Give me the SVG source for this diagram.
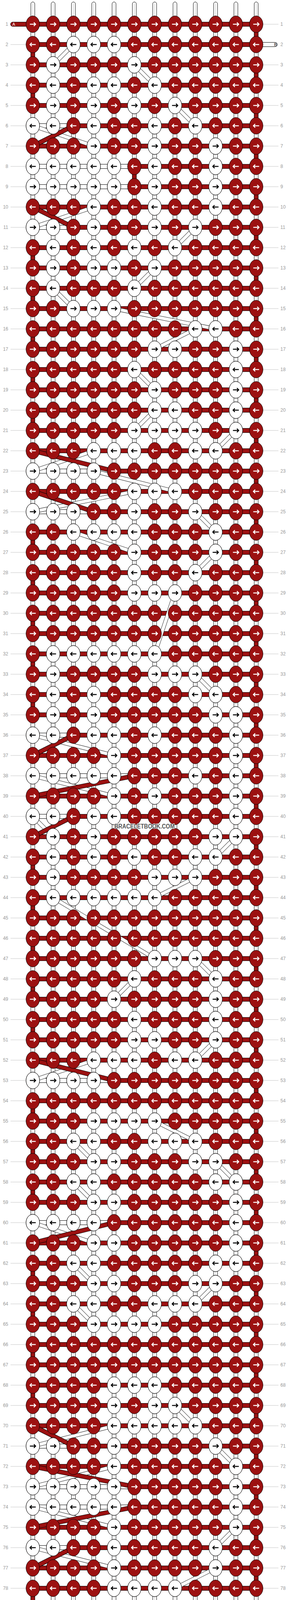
<svg xmlns="http://www.w3.org/2000/svg" width="740" height="4232" viewBox="0 0 740 4232">
<style>
.kr{fill:#9c1111;stroke:#000;stroke-width:1}
.kw{fill:#fff;stroke:#000;stroke-width:1}
.aw{fill:none;stroke:#fff;stroke-width:2.4}
.ab{fill:none;stroke:#000;stroke-width:2.4}
.hs{fill:#9c1111;stroke:#000;stroke-width:1}
.ws{fill:#fff;stroke:#000;stroke-width:1}
.cl{fill:none;stroke:#bbb;stroke-width:1}
.bo{fill:none;stroke:#000;stroke-width:10}
.bi{fill:none;stroke:#fff;stroke-width:8.4}
.ao{fill:none;stroke:#000;stroke-width:11.5}
.ai{fill:none;stroke:#9c1111;stroke-width:9.5}
.rl{fill:none;stroke:#c4c4c4;stroke-width:1}
text{font-family:"Liberation Sans",Arial,sans-serif}
.nl{font-size:12px;fill:#999;text-anchor:end}
.nr{font-size:12px;fill:#999}
.st{font-size:11px}
.wm{font-size:16px;font-weight:bold;fill:#555;stroke:#fff;stroke-width:2;paint-order:stroke}
</style>
<defs>
<g id="a"><ellipse rx="17.3" ry="21.3" class="kr"/><path d="M-7.5,0H7M2.6,-4.6L7.2,0L2.6,4.6" class="aw"/></g>
<g id="b"><ellipse rx="17.3" ry="21.3" class="kr"/><path d="M7.5,0H-7M-2.6,-4.6L-7.2,0L-2.6,4.6" class="aw"/></g>
<g id="c"><ellipse rx="17.3" ry="21.3" class="kw"/><path d="M-7.5,0H7M2.6,-4.6L7.2,0L2.6,4.6" class="ab"/></g>
<g id="d"><ellipse rx="17.3" ry="21.3" class="kw"/><path d="M7.5,0H-7M-2.6,-4.6L-7.2,0L-2.6,4.6" class="ab"/></g>
<g id="RA"><use href="#a" x="84"/><use href="#a" x="136"/><use href="#a" x="188"/><use href="#a" x="240"/><use href="#a" x="292"/><use href="#a" x="344"/><use href="#a" x="396"/><use href="#a" x="448"/><use href="#a" x="500"/><use href="#a" x="552"/><use href="#a" x="604"/><use href="#a" x="656"/></g>
<g id="RB"><use href="#b" x="84"/><use href="#b" x="136"/><use href="#b" x="188"/><use href="#b" x="240"/><use href="#b" x="292"/><use href="#b" x="344"/><use href="#b" x="396"/><use href="#b" x="448"/><use href="#b" x="500"/><use href="#b" x="552"/><use href="#b" x="604"/><use href="#b" x="656"/></g>
<path id="bp" d="M188,114L136,166M344,166L396,218M448,270L500,322M84,322L240,374M240,530L84,582M500,582L448,634M396,686L344,738M136,738L188,790M292,790L552,842M500,842L396,894M344,946L396,998M396,1050L344,1102M604,1102L552,1154M240,1154L84,1206M240,1206L448,1258M344,1258L84,1310M500,1310L552,1362M188,1362L344,1414M552,1414L500,1466M448,1518L396,1674M500,1726L552,1778M84,1882L292,1934M84,1986L292,2038M84,2090L136,2142M604,2142L552,2194M500,2246L396,2298M136,2298L396,2454M500,2454L552,2506M344,2506L292,2558M552,2662L500,2714M240,2714L84,2766M396,2870L500,2922M188,2922L240,2974M552,2974L604,3026M188,3026L240,3078M84,3130L240,3182M188,3234L240,3286M552,3286L500,3338M188,3338L240,3390M448,3598L500,3650M292,3650L84,3702M552,3702L604,3754M292,3754L84,3806M84,3858L292,3910M604,3910L552,3962M84,3962L292,4014M552,4014L448,4066"/>
<path id="ap" d="M188,322L84,374M84,530L188,582M84,1154L292,1206M84,1258L240,1310M188,1882L84,1934M344,1986L84,2038M188,2090L84,2142M84,2714L292,2766M292,3130L84,3182M84,3650L188,3702M84,3754L344,3806M344,3858L84,3910M188,3962L84,4014"/>
</defs>
<rect width="740" height="4232" fill="#fff"/>
<g id="row-lines">
<path class="rl" d="M27,114h40m-40,52h40m-40,52h40m-40,52h40m-40,52h40m-40,52h40m-40,52h40m-40,52h40m-40,52h40m-40,52h40m-40,52h40m-40,52h40
m-40,52h40m-40,52h40m-40,52h40m-40,52h40m-40,52h40m-40,52h40m-40,52h40m-40,52h40m-40,52h40m-40,52h40m-40,52h40
m-40,52h40m-40,52h40m-40,52h40m-40,52h40m-40,52h40m-40,52h40m-40,52h40m-40,52h40m-40,52h40m-40,52h40m-40,52h40
m-40,52h40m-40,52h40m-40,52h40m-40,52h40m-40,52h40m-40,52h40m-40,52h40m-40,52h40m-40,52h40m-40,52h40m-40,52h40
m-40,52h40m-40,52h40m-40,52h40m-40,52h40m-40,52h40m-40,52h40m-40,52h40m-40,52h40m-40,52h40m-40,52h40m-40,52h40
m-40,52h40m-40,52h40m-40,52h40m-40,52h40m-40,52h40m-40,52h40m-40,52h40m-40,52h40m-40,52h40m-40,52h40m-40,52h40
m-40,52h40m-40,52h40m-40,52h40m-40,52h40m-40,52h40m-40,52h40m-40,52h40m-40,52h40m-40,52h40m-40,52h40m-40,52h40"/>
<path class="rl" d="M673,62h40M673,166h40m-40,52h40m-40,52h40m-40,52h40m-40,52h40m-40,52h40m-40,52h40m-40,52h40m-40,52h40m-40,52h40m-40,52h40m-40,52h40
m-40,52h40m-40,52h40m-40,52h40m-40,52h40m-40,52h40m-40,52h40m-40,52h40m-40,52h40m-40,52h40m-40,52h40m-40,52h40
m-40,52h40m-40,52h40m-40,52h40m-40,52h40m-40,52h40m-40,52h40m-40,52h40m-40,52h40m-40,52h40m-40,52h40m-40,52h40
m-40,52h40m-40,52h40m-40,52h40m-40,52h40m-40,52h40m-40,52h40m-40,52h40m-40,52h40m-40,52h40m-40,52h40m-40,52h40
m-40,52h40m-40,52h40m-40,52h40m-40,52h40m-40,52h40m-40,52h40m-40,52h40m-40,52h40m-40,52h40m-40,52h40m-40,52h40
m-40,52h40m-40,52h40m-40,52h40m-40,52h40m-40,52h40m-40,52h40m-40,52h40m-40,52h40m-40,52h40m-40,52h40m-40,52h40
m-40,52h40m-40,52h40m-40,52h40m-40,52h40m-40,52h40m-40,52h40m-40,52h40m-40,52h40m-40,52h40M673,4170h40"/>
</g>
<g id="warp">
<rect class="ws" x="79" y="5" width="10" height="4222" rx="5"/><rect class="ws" x="131" y="5" width="10" height="4222" rx="5"/><rect class="ws" x="183" y="5" width="10" height="4222" rx="5"/><rect class="ws" x="235" y="5" width="10" height="4222" rx="5"/><rect class="ws" x="287" y="5" width="10" height="4222" rx="5"/><rect class="ws" x="339" y="5" width="10" height="4222" rx="5"/><rect class="ws" x="391" y="5" width="10" height="4222" rx="5"/><rect class="ws" x="443" y="5" width="10" height="4222" rx="5"/><rect class="ws" x="495" y="5" width="10" height="4222" rx="5"/><rect class="ws" x="547" y="5" width="10" height="4222" rx="5"/><rect class="ws" x="599" y="5" width="10" height="4222" rx="5"/><rect class="ws" x="651" y="5" width="10" height="4222" rx="5"/>
<path class="cl" d="M84,10V4222M136,10V4222M188,10V4222M240,10V4222M292,10V4222M344,10V4222M396,10V4222M448,10V4222M500,10V4222M552,10V4222M604,10V4222M656,10V4222"/>
</g>
<g id="connectors">
<rect class="hs" x="27" y="56.5" width="62" height="11" rx="5.5"/>
<rect class="hs" x="27" y="4164.5" width="62" height="11" rx="5.5"/>
<rect class="ws" x="650" y="108.5" width="60" height="11" rx="5.5"/>
<rect class="ws" x="650" y="4112.5" width="60" height="11" rx="5.5"/>
<path class="hs" d="M84,56.5h572v11h-572z
m0,52h572v11h-572zm0,52h572v11h-572zm0,52h572v11h-572zm0,52h572v11h-572zm0,52h572v11h-572zm0,52h572v11h-572zm0,52h572v11h-572zm0,52h572v11h-572zm0,52h572v11h-572zm0,52h572v11h-572z
m0,52h572v11h-572zm0,52h572v11h-572zm0,52h572v11h-572zm0,52h572v11h-572zm0,52h572v11h-572zm0,52h572v11h-572zm0,52h572v11h-572zm0,52h572v11h-572zm0,52h572v11h-572zm0,52h572v11h-572z
m0,52h572v11h-572zm0,52h572v11h-572zm0,52h572v11h-572zm0,52h572v11h-572zm0,52h572v11h-572zm0,52h572v11h-572zm0,52h572v11h-572zm0,52h572v11h-572zm0,52h572v11h-572zm0,52h572v11h-572z
m0,52h572v11h-572zm0,52h572v11h-572zm0,52h572v11h-572zm0,52h572v11h-572zm0,52h572v11h-572zm0,52h572v11h-572zm0,52h572v11h-572zm0,52h572v11h-572zm0,52h572v11h-572zm0,52h572v11h-572z
m0,52h572v11h-572zm0,52h572v11h-572zm0,52h572v11h-572zm0,52h572v11h-572zm0,52h572v11h-572zm0,52h572v11h-572zm0,52h572v11h-572zm0,52h572v11h-572zm0,52h572v11h-572zm0,52h572v11h-572z
m0,52h572v11h-572zm0,52h572v11h-572zm0,52h572v11h-572zm0,52h572v11h-572zm0,52h572v11h-572zm0,52h572v11h-572zm0,52h572v11h-572zm0,52h572v11h-572zm0,52h572v11h-572zm0,52h572v11h-572z
m0,52h572v11h-572zm0,52h572v11h-572zm0,52h572v11h-572zm0,52h572v11h-572zm0,52h572v11h-572zm0,52h572v11h-572zm0,52h572v11h-572zm0,52h572v11h-572zm0,52h572v11h-572zm0,52h572v11h-572z
m0,52h572v11h-572zm0,52h572v11h-572zm0,52h572v11h-572zm0,52h572v11h-572zm0,52h572v11h-572zm0,52h572v11h-572zm0,52h572v11h-572zm0,52h572v11h-572zm0,52h572v11h-572z"/>
<rect class="ws" x="84" y="316.5" width="104" height="11"/>
<rect class="ws" x="84" y="420.5" width="260" height="11"/>
<rect class="ws" x="84" y="472.5" width="260" height="11"/>
<rect class="ws" x="84" y="576.5" width="104" height="11"/>
<rect class="ws" x="84" y="1200.5" width="208" height="11"/>
<rect class="ws" x="84" y="1304.5" width="156" height="11"/>
<rect class="ws" x="84" y="1876.5" width="104" height="11"/>
<rect class="ws" x="84" y="1980.5" width="260" height="11"/>
<rect class="ws" x="84" y="2084.5" width="104" height="11"/>
<rect class="ws" x="84" y="2760.5" width="208" height="11"/>
<rect class="ws" x="84" y="3124.5" width="208" height="11"/>
<rect class="ws" x="84" y="3696.5" width="104" height="11"/>
<rect class="ws" x="84" y="3800.5" width="260" height="11"/>
<rect class="ws" x="84" y="3852.5" width="260" height="11"/>
<rect class="ws" x="84" y="3956.5" width="104" height="11"/>
<path class="hs" d="M651,77h10v22h-10z
m0,104h10v22h-10zm0,104h10v22h-10zm0,104h10v22h-10zm0,104h10v22h-10zm0,104h10v22h-10zm0,104h10v22h-10zm0,104h10v22h-10zm0,104h10v22h-10zm0,104h10v22h-10zm0,104h10v22h-10z
m0,104h10v22h-10zm0,104h10v22h-10zm0,104h10v22h-10zm0,104h10v22h-10zm0,104h10v22h-10zm0,104h10v22h-10zm0,104h10v22h-10zm0,104h10v22h-10zm0,104h10v22h-10zm0,104h10v22h-10z
m0,104h10v22h-10zm0,104h10v22h-10zm0,104h10v22h-10zm0,104h10v22h-10zm0,104h10v22h-10zm0,104h10v22h-10zm0,104h10v22h-10zm0,104h10v22h-10zm0,104h10v22h-10zm0,104h10v22h-10z
m0,104h10v22h-10zm0,104h10v22h-10zm0,104h10v22h-10zm0,104h10v22h-10zm0,104h10v22h-10zm0,104h10v22h-10zm0,104h10v22h-10zm0,104h10v22h-10zm0,104h10v22h-10z
M79,129h10v22h-10zM79,233h10v22h-10zM79,649h10v22h-10zM79,753h10v22h-10zM79,857h10v22h-10zM79,961h10v22h-10zM79,1065h10v22h-10zM79,1377h10v22h-10zM79,1481h10v22h-10zM79,1585h10v22h-10zM79,1689h10v22h-10zM79,1793h10v22h-10zM79,2209h10v22h-10zM79,2313h10v22h-10zM79,2417h10v22h-10zM79,2521h10v22h-10zM79,2625h10v22h-10zM79,2833h10v22h-10zM79,2937h10v22h-10zM79,3041h10v22h-10zM79,3249h10v22h-10zM79,3353h10v22h-10zM79,3457h10v22h-10zM79,3561h10v22h-10zM79,4081h10v22h-10zM339,441h10v22h-10z"/>
<use href="#bp" class="bo"/><use href="#bp" class="bi"/>
<use href="#ap" class="ao"/><use href="#ap" class="ai"/>
</g>
<g id="knots">
<g id="row-1" transform="translate(0,62)"><use href="#RA"/><text class="nl" x="21" y="4">1</text><text class="nr" x="718" y="4">1</text></g>
<g id="row-2" transform="translate(0,114)"><use href="#RB"/><use href="#d" x="188"/><use href="#d" x="240"/><use href="#d" x="292"/><text class="nl" x="21" y="4">2</text><text class="nr" x="718" y="4">2</text></g>
<g id="row-3" transform="translate(0,166)"><use href="#RA"/><use href="#c" x="136"/><use href="#c" x="344"/><text class="nl" x="21" y="4">3</text><text class="nr" x="718" y="4">3</text></g>
<g id="row-4" transform="translate(0,218)"><use href="#RB"/><use href="#d" x="136"/><use href="#d" x="240"/><use href="#d" x="292"/><use href="#d" x="396"/><text class="nl" x="21" y="4">4</text><text class="nr" x="718" y="4">4</text></g>
<g id="row-5" transform="translate(0,270)"><use href="#RA"/><use href="#c" x="136"/><use href="#c" x="240"/><use href="#c" x="344"/><use href="#c" x="448"/><text class="nl" x="21" y="4">5</text><text class="nr" x="718" y="4">5</text></g>
<g id="row-6" transform="translate(0,322)"><use href="#RB"/><use href="#d" x="84"/><use href="#d" x="136"/><use href="#d" x="240"/><use href="#d" x="396"/><use href="#d" x="500"/><text class="nl" x="21" y="4">6</text><text class="nr" x="718" y="4">6</text></g>
<g id="row-7" transform="translate(0,374)"><use href="#RA"/><use href="#c" x="240"/><use href="#c" x="396"/><use href="#c" x="552"/><text class="nl" x="21" y="4">7</text><text class="nr" x="718" y="4">7</text></g>
<g id="row-8" transform="translate(0,426)"><use href="#RB"/><use href="#d" x="84"/><use href="#d" x="136"/><use href="#d" x="188"/><use href="#d" x="240"/><use href="#d" x="292"/><use href="#d" x="396"/><use href="#d" x="552"/><text class="nl" x="21" y="4">8</text><text class="nr" x="718" y="4">8</text></g>
<g id="row-9" transform="translate(0,478)"><use href="#RA"/><use href="#c" x="84"/><use href="#c" x="136"/><use href="#c" x="188"/><use href="#c" x="240"/><use href="#c" x="292"/><use href="#c" x="396"/><use href="#c" x="552"/><text class="nl" x="21" y="4">9</text><text class="nr" x="718" y="4">9</text></g>
<g id="row-10" transform="translate(0,530)"><use href="#RB"/><use href="#d" x="240"/><use href="#d" x="396"/><use href="#d" x="552"/><text class="nl" x="21" y="4">10</text><text class="nr" x="718" y="4">10</text></g>
<g id="row-11" transform="translate(0,582)"><use href="#RA"/><use href="#c" x="84"/><use href="#c" x="136"/><use href="#c" x="240"/><use href="#c" x="396"/><use href="#c" x="500"/><text class="nl" x="21" y="4">11</text><text class="nr" x="718" y="4">11</text></g>
<g id="row-12" transform="translate(0,634)"><use href="#RB"/><use href="#d" x="136"/><use href="#d" x="240"/><use href="#d" x="344"/><use href="#d" x="448"/><text class="nl" x="21" y="4">12</text><text class="nr" x="718" y="4">12</text></g>
<g id="row-13" transform="translate(0,686)"><use href="#RA"/><use href="#c" x="136"/><use href="#c" x="240"/><use href="#c" x="292"/><use href="#c" x="396"/><text class="nl" x="21" y="4">13</text><text class="nr" x="718" y="4">13</text></g>
<g id="row-14" transform="translate(0,738)"><use href="#RB"/><use href="#d" x="136"/><use href="#d" x="344"/><text class="nl" x="21" y="4">14</text><text class="nr" x="718" y="4">14</text></g>
<g id="row-15" transform="translate(0,790)"><use href="#RA"/><use href="#c" x="188"/><use href="#c" x="240"/><use href="#c" x="292"/><text class="nl" x="21" y="4">15</text><text class="nr" x="718" y="4">15</text></g>
<g id="row-16" transform="translate(0,842)"><use href="#RB"/><use href="#d" x="500"/><use href="#d" x="552"/><text class="nl" x="21" y="4">16</text><text class="nr" x="718" y="4">16</text></g>
<g id="row-17" transform="translate(0,894)"><use href="#RA"/><use href="#c" x="396"/><use href="#c" x="448"/><use href="#c" x="604"/><text class="nl" x="21" y="4">17</text><text class="nr" x="718" y="4">17</text></g>
<g id="row-18" transform="translate(0,946)"><use href="#RB"/><use href="#d" x="344"/><use href="#d" x="604"/><text class="nl" x="21" y="4">18</text><text class="nr" x="718" y="4">18</text></g>
<g id="row-19" transform="translate(0,998)"><use href="#RA"/><use href="#c" x="396"/><use href="#c" x="604"/><text class="nl" x="21" y="4">19</text><text class="nr" x="718" y="4">19</text></g>
<g id="row-20" transform="translate(0,1050)"><use href="#RB"/><use href="#d" x="396"/><use href="#d" x="448"/><use href="#d" x="604"/><text class="nl" x="21" y="4">20</text><text class="nr" x="718" y="4">20</text></g>
<g id="row-21" transform="translate(0,1102)"><use href="#RA"/><use href="#c" x="344"/><use href="#c" x="396"/><use href="#c" x="448"/><use href="#c" x="500"/><use href="#c" x="604"/><text class="nl" x="21" y="4">21</text><text class="nr" x="718" y="4">21</text></g>
<g id="row-22" transform="translate(0,1154)"><use href="#RB"/><use href="#d" x="240"/><use href="#d" x="292"/><use href="#d" x="344"/><use href="#d" x="500"/><use href="#d" x="552"/><text class="nl" x="21" y="4">22</text><text class="nr" x="718" y="4">22</text></g>
<g id="row-23" transform="translate(0,1206)"><use href="#RA"/><use href="#c" x="84"/><use href="#c" x="136"/><use href="#c" x="188"/><use href="#c" x="240"/><text class="nl" x="21" y="4">23</text><text class="nr" x="718" y="4">23</text></g>
<g id="row-24" transform="translate(0,1258)"><use href="#RB"/><use href="#d" x="344"/><use href="#d" x="396"/><use href="#d" x="448"/><text class="nl" x="21" y="4">24</text><text class="nr" x="718" y="4">24</text></g>
<g id="row-25" transform="translate(0,1310)"><use href="#RA"/><use href="#c" x="84"/><use href="#c" x="136"/><use href="#c" x="188"/><use href="#c" x="344"/><use href="#c" x="500"/><text class="nl" x="21" y="4">25</text><text class="nr" x="718" y="4">25</text></g>
<g id="row-26" transform="translate(0,1362)"><use href="#RB"/><use href="#d" x="188"/><use href="#d" x="240"/><use href="#d" x="292"/><use href="#d" x="344"/><use href="#d" x="552"/><text class="nl" x="21" y="4">26</text><text class="nr" x="718" y="4">26</text></g>
<g id="row-27" transform="translate(0,1414)"><use href="#RA"/><use href="#c" x="344"/><use href="#c" x="552"/><text class="nl" x="21" y="4">27</text><text class="nr" x="718" y="4">27</text></g>
<g id="row-28" transform="translate(0,1466)"><use href="#RB"/><use href="#d" x="344"/><use href="#d" x="500"/><text class="nl" x="21" y="4">28</text><text class="nr" x="718" y="4">28</text></g>
<g id="row-29" transform="translate(0,1518)"><use href="#RA"/><use href="#c" x="344"/><use href="#c" x="396"/><use href="#c" x="448"/><text class="nl" x="21" y="4">29</text><text class="nr" x="718" y="4">29</text></g>
<g id="row-30" transform="translate(0,1570)"><use href="#RB"/><text class="nl" x="21" y="4">30</text><text class="nr" x="718" y="4">30</text></g>
<g id="row-31" transform="translate(0,1622)"><use href="#RA"/><text class="nl" x="21" y="4">31</text><text class="nr" x="718" y="4">31</text></g>
<g id="row-32" transform="translate(0,1674)"><use href="#RB"/><use href="#d" x="136"/><use href="#d" x="188"/><use href="#d" x="240"/><use href="#d" x="292"/><use href="#d" x="344"/><use href="#d" x="396"/><text class="nl" x="21" y="4">32</text><text class="nr" x="718" y="4">32</text></g>
<g id="row-33" transform="translate(0,1726)"><use href="#RA"/><use href="#c" x="136"/><use href="#c" x="396"/><use href="#c" x="448"/><use href="#c" x="500"/><text class="nl" x="21" y="4">33</text><text class="nr" x="718" y="4">33</text></g>
<g id="row-34" transform="translate(0,1778)"><use href="#RB"/><use href="#d" x="136"/><use href="#d" x="240"/><use href="#d" x="500"/><use href="#d" x="552"/><text class="nl" x="21" y="4">34</text><text class="nr" x="718" y="4">34</text></g>
<g id="row-35" transform="translate(0,1830)"><use href="#RA"/><use href="#c" x="136"/><use href="#c" x="240"/><use href="#c" x="552"/><use href="#c" x="604"/><text class="nl" x="21" y="4">35</text><text class="nr" x="718" y="4">35</text></g>
<g id="row-36" transform="translate(0,1882)"><use href="#RB"/><use href="#d" x="84"/><use href="#d" x="136"/><use href="#d" x="240"/><use href="#d" x="292"/><use href="#d" x="396"/><use href="#d" x="604"/><text class="nl" x="21" y="4">36</text><text class="nr" x="718" y="4">36</text></g>
<g id="row-37" transform="translate(0,1934)"><use href="#RA"/><use href="#c" x="292"/><use href="#c" x="604"/><text class="nl" x="21" y="4">37</text><text class="nr" x="718" y="4">37</text></g>
<g id="row-38" transform="translate(0,1986)"><use href="#RB"/><use href="#d" x="84"/><use href="#d" x="136"/><use href="#d" x="188"/><use href="#d" x="240"/><use href="#d" x="292"/><use href="#d" x="500"/><use href="#d" x="604"/><text class="nl" x="21" y="4">38</text><text class="nr" x="718" y="4">38</text></g>
<g id="row-39" transform="translate(0,2038)"><use href="#RA"/><use href="#c" x="292"/><use href="#c" x="396"/><use href="#c" x="604"/><text class="nl" x="21" y="4">39</text><text class="nr" x="718" y="4">39</text></g>
<g id="row-40" transform="translate(0,2090)"><use href="#RB"/><use href="#d" x="84"/><use href="#d" x="136"/><use href="#d" x="240"/><use href="#d" x="292"/><use href="#d" x="604"/><text class="nl" x="21" y="4">40</text><text class="nr" x="718" y="4">40</text></g>
<g id="row-41" transform="translate(0,2142)"><use href="#RA"/><use href="#c" x="136"/><use href="#c" x="240"/><use href="#c" x="552"/><use href="#c" x="604"/><text class="nl" x="21" y="4">41</text><text class="nr" x="718" y="4">41</text></g>
<g id="row-42" transform="translate(0,2194)"><use href="#RB"/><use href="#d" x="136"/><use href="#d" x="240"/><use href="#d" x="344"/><use href="#d" x="500"/><use href="#d" x="552"/><text class="nl" x="21" y="4">42</text><text class="nr" x="718" y="4">42</text></g>
<g id="row-43" transform="translate(0,2246)"><use href="#RA"/><use href="#c" x="136"/><use href="#c" x="396"/><use href="#c" x="448"/><use href="#c" x="500"/><text class="nl" x="21" y="4">43</text><text class="nr" x="718" y="4">43</text></g>
<g id="row-44" transform="translate(0,2298)"><use href="#RB"/><use href="#d" x="136"/><use href="#d" x="188"/><use href="#d" x="240"/><use href="#d" x="292"/><use href="#d" x="344"/><use href="#d" x="396"/><text class="nl" x="21" y="4">44</text><text class="nr" x="718" y="4">44</text></g>
<g id="row-45" transform="translate(0,2350)"><use href="#RA"/><text class="nl" x="21" y="4">45</text><text class="nr" x="718" y="4">45</text></g>
<g id="row-46" transform="translate(0,2402)"><use href="#RB"/><text class="nl" x="21" y="4">46</text><text class="nr" x="718" y="4">46</text></g>
<g id="row-47" transform="translate(0,2454)"><use href="#RA"/><use href="#c" x="396"/><use href="#c" x="448"/><use href="#c" x="500"/><text class="nl" x="21" y="4">47</text><text class="nr" x="718" y="4">47</text></g>
<g id="row-48" transform="translate(0,2506)"><use href="#RB"/><use href="#d" x="344"/><use href="#d" x="552"/><text class="nl" x="21" y="4">48</text><text class="nr" x="718" y="4">48</text></g>
<g id="row-49" transform="translate(0,2558)"><use href="#RA"/><use href="#c" x="292"/><use href="#c" x="552"/><text class="nl" x="21" y="4">49</text><text class="nr" x="718" y="4">49</text></g>
<g id="row-50" transform="translate(0,2610)"><use href="#RB"/><use href="#d" x="344"/><use href="#d" x="552"/><text class="nl" x="21" y="4">50</text><text class="nr" x="718" y="4">50</text></g>
<g id="row-51" transform="translate(0,2662)"><use href="#RA"/><use href="#c" x="344"/><use href="#c" x="396"/><use href="#c" x="552"/><text class="nl" x="21" y="4">51</text><text class="nr" x="718" y="4">51</text></g>
<g id="row-52" transform="translate(0,2714)"><use href="#RB"/><use href="#d" x="240"/><use href="#d" x="292"/><use href="#d" x="344"/><use href="#d" x="448"/><use href="#d" x="500"/><text class="nl" x="21" y="4">52</text><text class="nr" x="718" y="4">52</text></g>
<g id="row-53" transform="translate(0,2766)"><use href="#RA"/><use href="#c" x="84"/><use href="#c" x="136"/><use href="#c" x="188"/><use href="#c" x="240"/><text class="nl" x="21" y="4">53</text><text class="nr" x="718" y="4">53</text></g>
<g id="row-54" transform="translate(0,2818)"><use href="#RB"/><text class="nl" x="21" y="4">54</text><text class="nr" x="718" y="4">54</text></g>
<g id="row-55" transform="translate(0,2870)"><use href="#RA"/><use href="#c" x="240"/><use href="#c" x="292"/><use href="#c" x="344"/><use href="#c" x="396"/><text class="nl" x="21" y="4">55</text><text class="nr" x="718" y="4">55</text></g>
<g id="row-56" transform="translate(0,2922)"><use href="#RB"/><use href="#d" x="188"/><use href="#d" x="240"/><use href="#d" x="396"/><use href="#d" x="448"/><use href="#d" x="500"/><text class="nl" x="21" y="4">56</text><text class="nr" x="718" y="4">56</text></g>
<g id="row-57" transform="translate(0,2974)"><use href="#RA"/><use href="#c" x="240"/><use href="#c" x="292"/><use href="#c" x="500"/><use href="#c" x="552"/><text class="nl" x="21" y="4">57</text><text class="nr" x="718" y="4">57</text></g>
<g id="row-58" transform="translate(0,3026)"><use href="#RB"/><use href="#d" x="188"/><use href="#d" x="240"/><use href="#d" x="552"/><use href="#d" x="604"/><text class="nl" x="21" y="4">58</text><text class="nr" x="718" y="4">58</text></g>
<g id="row-59" transform="translate(0,3078)"><use href="#RA"/><use href="#c" x="240"/><use href="#c" x="292"/><use href="#c" x="604"/><text class="nl" x="21" y="4">59</text><text class="nr" x="718" y="4">59</text></g>
<g id="row-60" transform="translate(0,3130)"><use href="#RB"/><use href="#d" x="84"/><use href="#d" x="136"/><use href="#d" x="188"/><use href="#d" x="240"/><use href="#d" x="604"/><text class="nl" x="21" y="4">60</text><text class="nr" x="718" y="4">60</text></g>
<g id="row-61" transform="translate(0,3182)"><use href="#RA"/><use href="#c" x="240"/><use href="#c" x="292"/><use href="#c" x="604"/><text class="nl" x="21" y="4">61</text><text class="nr" x="718" y="4">61</text></g>
<g id="row-62" transform="translate(0,3234)"><use href="#RB"/><use href="#d" x="188"/><use href="#d" x="240"/><use href="#d" x="552"/><use href="#d" x="604"/><text class="nl" x="21" y="4">62</text><text class="nr" x="718" y="4">62</text></g>
<g id="row-63" transform="translate(0,3286)"><use href="#RA"/><use href="#c" x="240"/><use href="#c" x="292"/><use href="#c" x="500"/><use href="#c" x="552"/><text class="nl" x="21" y="4">63</text><text class="nr" x="718" y="4">63</text></g>
<g id="row-64" transform="translate(0,3338)"><use href="#RB"/><use href="#d" x="188"/><use href="#d" x="240"/><use href="#d" x="396"/><use href="#d" x="448"/><use href="#d" x="500"/><text class="nl" x="21" y="4">64</text><text class="nr" x="718" y="4">64</text></g>
<g id="row-65" transform="translate(0,3390)"><use href="#RA"/><use href="#c" x="240"/><use href="#c" x="292"/><use href="#c" x="344"/><use href="#c" x="396"/><text class="nl" x="21" y="4">65</text><text class="nr" x="718" y="4">65</text></g>
<g id="row-66" transform="translate(0,3442)"><use href="#RB"/><text class="nl" x="21" y="4">66</text><text class="nr" x="718" y="4">66</text></g>
<g id="row-67" transform="translate(0,3494)"><use href="#RA"/><text class="nl" x="21" y="4">67</text><text class="nr" x="718" y="4">67</text></g>
<g id="row-68" transform="translate(0,3546)"><use href="#RB"/><use href="#d" x="292"/><use href="#d" x="344"/><use href="#d" x="396"/><text class="nl" x="21" y="4">68</text><text class="nr" x="718" y="4">68</text></g>
<g id="row-69" transform="translate(0,3598)"><use href="#RA"/><use href="#c" x="292"/><use href="#c" x="396"/><use href="#c" x="448"/><text class="nl" x="21" y="4">69</text><text class="nr" x="718" y="4">69</text></g>
<g id="row-70" transform="translate(0,3650)"><use href="#RB"/><use href="#d" x="292"/><use href="#d" x="344"/><use href="#d" x="396"/><use href="#d" x="448"/><use href="#d" x="500"/><text class="nl" x="21" y="4">70</text><text class="nr" x="718" y="4">70</text></g>
<g id="row-71" transform="translate(0,3702)"><use href="#RA"/><use href="#c" x="84"/><use href="#c" x="136"/><use href="#c" x="292"/><use href="#c" x="552"/><text class="nl" x="21" y="4">71</text><text class="nr" x="718" y="4">71</text></g>
<g id="row-72" transform="translate(0,3754)"><use href="#RB"/><use href="#d" x="292"/><use href="#d" x="604"/><text class="nl" x="21" y="4">72</text><text class="nr" x="718" y="4">72</text></g>
<g id="row-73" transform="translate(0,3806)"><use href="#RA"/><use href="#c" x="84"/><use href="#c" x="136"/><use href="#c" x="188"/><use href="#c" x="240"/><use href="#c" x="292"/><use href="#c" x="604"/><text class="nl" x="21" y="4">73</text><text class="nr" x="718" y="4">73</text></g>
<g id="row-74" transform="translate(0,3858)"><use href="#RB"/><use href="#d" x="84"/><use href="#d" x="136"/><use href="#d" x="188"/><use href="#d" x="240"/><use href="#d" x="292"/><use href="#d" x="604"/><text class="nl" x="21" y="4">74</text><text class="nr" x="718" y="4">74</text></g>
<g id="row-75" transform="translate(0,3910)"><use href="#RA"/><use href="#c" x="292"/><use href="#c" x="604"/><text class="nl" x="21" y="4">75</text><text class="nr" x="718" y="4">75</text></g>
<g id="row-76" transform="translate(0,3962)"><use href="#RB"/><use href="#d" x="84"/><use href="#d" x="136"/><use href="#d" x="292"/><use href="#d" x="552"/><text class="nl" x="21" y="4">76</text><text class="nr" x="718" y="4">76</text></g>
<g id="row-77" transform="translate(0,4014)"><use href="#RA"/><use href="#c" x="292"/><use href="#c" x="552"/><text class="nl" x="21" y="4">77</text><text class="nr" x="718" y="4">77</text></g>
<g id="row-78" transform="translate(0,4066)"><use href="#RB"/><use href="#d" x="292"/><use href="#d" x="344"/><use href="#d" x="396"/><use href="#d" x="448"/><text class="nl" x="21" y="4">78</text><text class="nr" x="718" y="4">78</text></g>
<g id="row-79" transform="translate(0,4118)"><use href="#RA"/><use href="#c" x="292"/><use href="#c" x="344"/><use href="#c" x="396"/><text class="nl" x="21" y="4">79</text><text class="nr" x="718" y="4">79</text></g>
<g id="row-80" transform="translate(0,4170)"><use href="#RB"/><text class="nl" x="21" y="4">80</text><text class="nr" x="718" y="4">80</text></g>
</g>
<g id="labels">
<text class="st" x="31.5" y="66" fill="#fff">A</text>
<text class="st" x="31.5" y="4174" fill="#fff">A</text>
<text class="st" x="702" y="118" fill="#000">B</text>
<text class="st" x="702" y="4122" fill="#000">B</text>
<text class="wm" x="370" y="2121" text-anchor="middle" textLength="154" lengthAdjust="spacingAndGlyphs">BRACELETBOOK.COM</text>
</g>
</svg>
